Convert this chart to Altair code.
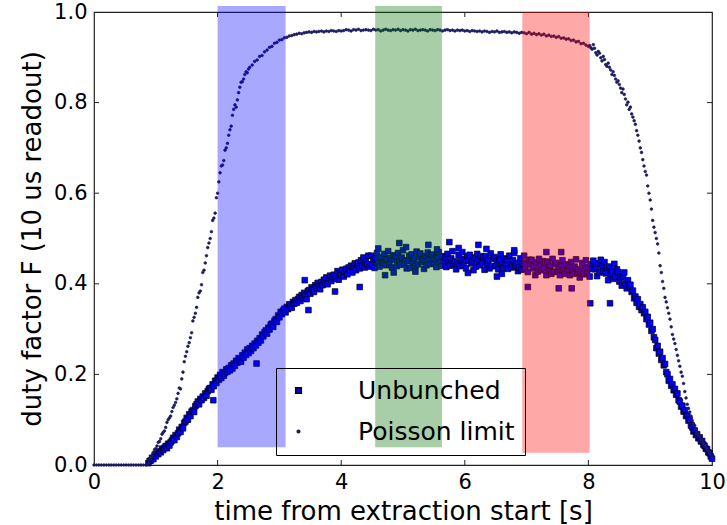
import altair as alt
import pandas as pd

# ---------------- data ----------------
# Poisson limit: regular readout-time grid 0.00..10.00 (step 0.04 s)
poisson_t = [round(0.04 * i, 2) for i in range(251)]
poisson_f = (
    [0.0] * 22 +
    [0.004, 0.016, 0.028, 0.036, 0.05, 0.058, 0.072, 0.083, 0.1, 0.108,
     0.127, 0.138, 0.158, 0.168, 0.205, 0.24, 0.262, 0.281, 0.318, 0.335,
     0.37, 0.384, 0.425, 0.446, 0.48, 0.5, 0.54, 0.556, 0.6, 0.645,
     0.662, 0.695, 0.71, 0.74, 0.772, 0.795, 0.806, 0.834, 0.846, 0.862,
     0.866, 0.878, 0.883, 0.891, 0.894, 0.902, 0.904, 0.912, 0.916, 0.922,
     0.924, 0.931, 0.933, 0.938, 0.939, 0.943, 0.944, 0.947, 0.948, 0.95,
     0.951, 0.953, 0.952, 0.954, 0.955, 0.956, 0.955, 0.957, 0.956] +
    [0.957, 0.958, 0.956, 0.958, 0.957, 0.959, 0.958, 0.957, 0.959, 0.958] +
    [0.959, 0.961, 0.96, 0.958, 0.961, 0.96, 0.962, 0.959, 0.96, 0.961,
     0.96, 0.959, 0.962, 0.96, 0.961, 0.958, 0.96, 0.962, 0.96, 0.959,
     0.961, 0.96, 0.962, 0.959, 0.961, 0.96, 0.958, 0.961, 0.96, 0.962,
     0.959, 0.96, 0.961, 0.96, 0.958, 0.961, 0.96, 0.959, 0.961, 0.96,
     0.958, 0.96, 0.961, 0.959, 0.96, 0.958, 0.96, 0.959, 0.96, 0.958] +
    [0.959, 0.957, 0.959, 0.958, 0.957, 0.958, 0.956, 0.958, 0.957, 0.955,
     0.957, 0.956, 0.958, 0.955, 0.956, 0.957, 0.955, 0.956, 0.954, 0.956,
     0.955, 0.953, 0.955] +
    [0.954, 0.952, 0.955, 0.951, 0.953, 0.95, 0.952, 0.949, 0.951, 0.947,
     0.949, 0.946, 0.947, 0.944, 0.946, 0.942, 0.943, 0.94, 0.941, 0.937,
     0.938, 0.934, 0.935, 0.93, 0.931, 0.927, 0.924] +
    [0.921, 0.928, 0.91, 0.913, 0.899, 0.902, 0.884, 0.887, 0.872, 0.868,
     0.852, 0.848, 0.832, 0.83, 0.808, 0.801, 0.79, 0.768, 0.752, 0.728,
     0.7, 0.674, 0.648, 0.616, 0.585, 0.54, 0.513, 0.488, 0.44, 0.405,
     0.37, 0.347, 0.322, 0.288, 0.268, 0.242, 0.218, 0.196, 0.162, 0.134,
     0.117, 0.098, 0.087, 0.073, 0.063, 0.051, 0.043, 0.035, 0.027, 0.018]
)
# extra Poisson readouts in the steep edges (times 0.90..2.50 and 8.02..9.98)
poisson_rise_t = [round(0.90 + 0.04 * i, 2) for i in range(41)]
poisson_rise_f = [0.012, 0.02, 0.034, 0.042, 0.052, 0.068, 0.075, 0.094, 0.104, 0.118,
                  0.132, 0.146, 0.17, 0.19, 0.228, 0.25, 0.27, 0.292, 0.326, 0.348,
                  0.38, 0.398, 0.43, 0.462, 0.49, 0.515, 0.545, 0.59, 0.625, 0.66,
                  0.672, 0.7, 0.728, 0.748, 0.785, 0.79, 0.822, 0.845, 0.852, 0.868,
                  0.874]
poisson_fall_t = [round(8.02 + 0.04 * i, 2) for i in range(50)]
poisson_fall_f = [0.926, 0.918, 0.92, 0.905, 0.909, 0.892, 0.895, 0.88, 0.878, 0.862,
                  0.86, 0.845, 0.84, 0.822, 0.818, 0.795, 0.785, 0.775, 0.76, 0.738,
                  0.715, 0.69, 0.66, 0.64, 0.6, 0.565, 0.525, 0.5, 0.468, 0.425,
                  0.39, 0.36, 0.335, 0.305, 0.278, 0.255, 0.23, 0.205, 0.18, 0.148,
                  0.125, 0.108, 0.092, 0.08, 0.068, 0.056, 0.047, 0.039, 0.031, 0.022]

# Unbunched: readout grid 0.88..10.00 (step 0.02 s)
unb_t = [round(0.88 + 0.02 * i, 2) for i in range(457)]
unb_f = [
    0.004, 0.009, 0.01, 0.016, 0.013, 0.021, 0.019, 0.026, 0.024, 0.03,
    0.028, 0.036, 0.033, 0.038, 0.042, 0.037, 0.047, 0.043, 0.05, 0.054,
    0.06, 0.055, 0.066, 0.062, 0.07, 0.078, 0.073, 0.084, 0.081, 0.093,
    0.096, 0.104, 0.1, 0.112, 0.108, 0.118, 0.121, 0.117, 0.13, 0.134,
    0.14, 0.134, 0.146, 0.143, 0.151, 0.148, 0.158, 0.153, 0.163, 0.168,
    0.17, 0.166, 0.178, 0.174, 0.186, 0.181, 0.193, 0.188, 0.199, 0.192,
    0.205, 0.197, 0.203, 0.211, 0.206, 0.214, 0.209, 0.22, 0.213, 0.224,
    0.219, 0.23, 0.226, 0.236, 0.231, 0.228, 0.242, 0.237, 0.248, 0.243,
    0.255, 0.247, 0.258, 0.252, 0.263, 0.258, 0.268, 0.264, 0.274, 0.27,
    0.28, 0.275, 0.288, 0.284, 0.293, 0.297, 0.29, 0.303, 0.299, 0.31,
    0.312, 0.305, 0.318, 0.322, 0.316, 0.33, 0.326, 0.338, 0.333, 0.341,
    0.345, 0.337, 0.349, 0.344, 0.355, 0.35, 0.347, 0.36, 0.356, 0.364,
    0.358, 0.366, 0.371, 0.362, 0.375, 0.369, 0.38, 0.374, 0.366, 0.384,
    0.386, 0.378, 0.392, 0.387, 0.382, 0.397, 0.391, 0.402, 0.395, 0.388,
    0.404, 0.397, 0.409, 0.403, 0.414, 0.399, 0.412, 0.418, 0.406, 0.415,
    0.42, 0.411, 0.417, 0.428, 0.409, 0.424, 0.419, 0.431, 0.416, 0.427,
    0.433, 0.421, 0.436, 0.429, 0.44, 0.425, 0.437, 0.445, 0.43, 0.442,
    0.447, 0.434, 0.452, 0.44, 0.458, 0.436, 0.449, 0.443, 0.462, 0.438,
    0.462, 0.442, 0.453, 0.435, 0.457, 0.468, 0.446, 0.438, 0.459, 0.448,
    0.446, 0.466, 0.441, 0.454, 0.472, 0.443, 0.457, 0.436, 0.463, 0.453,
    0.46, 0.439, 0.468, 0.449, 0.442, 0.458, 0.474, 0.445, 0.452, 0.434,
    0.45, 0.462, 0.435, 0.465, 0.447, 0.456, 0.438, 0.471, 0.443, 0.459,
    0.467, 0.448, 0.453, 0.433, 0.461, 0.441, 0.469, 0.455, 0.444, 0.464,
    0.464, 0.444, 0.455, 0.437, 0.459, 0.47, 0.448, 0.44, 0.461, 0.45,
    0.458, 0.437, 0.466, 0.447, 0.44, 0.456, 0.472, 0.443, 0.45, 0.432,
    0.444, 0.464, 0.439, 0.452, 0.47, 0.441, 0.455, 0.434, 0.461, 0.451,
    0.464, 0.445, 0.45, 0.43, 0.458, 0.438, 0.466, 0.452, 0.441, 0.461,
    0.446, 0.458, 0.431, 0.461, 0.443, 0.452, 0.434, 0.467, 0.439, 0.455,
    0.459, 0.439, 0.45, 0.432, 0.454, 0.465, 0.443, 0.435, 0.456, 0.445,
    0.454, 0.433, 0.462, 0.443, 0.436, 0.452, 0.468, 0.439, 0.446, 0.428,
    0.436, 0.456, 0.431, 0.444, 0.462, 0.433, 0.447, 0.426, 0.453, 0.443,
    0.453, 0.434, 0.439, 0.419, 0.447, 0.427, 0.455, 0.441, 0.43, 0.45,
    0.434, 0.446, 0.419, 0.449, 0.431, 0.44, 0.422, 0.455, 0.427, 0.443,
    0.446, 0.426, 0.437, 0.419, 0.441, 0.452, 0.43, 0.422, 0.443, 0.432,
    0.44, 0.419, 0.448, 0.429, 0.422, 0.438, 0.454, 0.425, 0.432, 0.414,
    0.426, 0.446, 0.421, 0.434, 0.452, 0.423, 0.437, 0.416, 0.443, 0.433,
    0.451, 0.432, 0.437, 0.417, 0.445, 0.425, 0.453, 0.439, 0.428, 0.448,
    0.423, 0.435, 0.408, 0.438, 0.42, 0.429, 0.411, 0.444, 0.416, 0.432,
    0.426, 0.405, 0.415, 0.396, 0.416, 0.425, 0.401, 0.39, 0.408, 0.395,
    0.398, 0.382, 0.385, 0.368, 0.372, 0.358, 0.366, 0.349, 0.355, 0.342,
    0.348, 0.335, 0.338, 0.322, 0.327, 0.31, 0.314, 0.296, 0.3, 0.282,
    0.276, 0.258, 0.263, 0.246, 0.25, 0.232, 0.236, 0.22, 0.223, 0.205,
    0.2, 0.186, 0.19, 0.175, 0.178, 0.165, 0.168, 0.155, 0.158, 0.143,
    0.14, 0.129, 0.131, 0.118, 0.121, 0.108, 0.11, 0.098, 0.1, 0.087,
    0.083, 0.074, 0.076, 0.066, 0.068, 0.059, 0.061, 0.052, 0.053, 0.045,
    0.042, 0.036, 0.035, 0.028, 0.026, 0.019, 0.014,
]
# scattered outlying Unbunched readouts
unb_out_t = [1.93, 2.63, 3.41, 3.47, 3.9, 4.3, 4.71, 4.94, 5.41, 5.75,
             6.22, 6.52, 7.02, 7.32, 7.52, 7.56, 7.73, 8.03, 8.35,
             4.6, 4.85, 5.05, 5.2, 5.55, 5.9, 6.05, 6.35, 6.6, 6.8]
unb_out_f = [0.143, 0.224, 0.408, 0.342, 0.383, 0.393, 0.419, 0.49, 0.486, 0.492,
             0.486, 0.416, 0.393, 0.47, 0.39, 0.47, 0.39, 0.357, 0.357,
             0.478, 0.425, 0.481, 0.427, 0.476, 0.479, 0.424, 0.477, 0.422, 0.474]

series_names = ["Unbunched", "Poisson limit"]

# Shaded readout windows
band_start = [2.0, 4.55, 6.93]
band_end = [3.1, 5.63, 8.02]
band_low = [0.039, 0.039, 0.027]
band_high = [1.013, 1.013, 1.0]
band_color = ["#0000ff", "#007000", "#ff0000"]

x_ticks = [0, 2, 4, 6, 8, 10]
y_ticks = [0.0, 0.2, 0.4, 0.6, 0.8, 1.0]

# ---------------- tables ----------------
pts = pd.concat([
    pd.DataFrame({"t": unb_t, "f": unb_f, "series": series_names[0]}),
    pd.DataFrame({"t": unb_out_t, "f": unb_out_f, "series": series_names[0]}),
    pd.DataFrame({"t": poisson_t, "f": poisson_f, "series": series_names[1]}),
    pd.DataFrame({"t": poisson_rise_t, "f": poisson_rise_f, "series": series_names[1]}),
    pd.DataFrame({"t": poisson_fall_t, "f": poisson_fall_f, "series": series_names[1]}),
], ignore_index=True)

bands = pd.DataFrame({"x1": band_start, "x2": band_end, "y1": band_low,
                      "y2": band_high, "c": band_color})

FONT = "DejaVu Sans"
W, H = 618, 453

xscale = alt.Scale(domain=[0, 10], nice=False, zero=False)
yscale = alt.Scale(domain=[0, 1], nice=False, zero=False)

points = alt.Chart(pts).mark_point(filled=True, clip=False, strokeWidth=0.7, opacity=1).encode(
    x=alt.X("t:Q", scale=xscale,
            axis=alt.Axis(values=x_ticks, format="d", title="time from extraction start [s]",
                          ticks=False, tickSize=0, domain=False, grid=False,
                          labelFlush=False, labelOverlap=False,
                          labelPadding=6, titlePadding=6)),
    y=alt.Y("f:Q", scale=yscale,
            axis=alt.Axis(values=y_ticks, format=".1f", title="duty factor F (10 us readout)",
                          ticks=False, tickSize=0, domain=False, grid=False,
                          labelFlush=False, labelOverlap=False,
                          labelPadding=7, titlePadding=8)),
    fill=alt.Fill("series:N", scale=alt.Scale(domain=series_names, range=["#0000ff", "#1b1b5e"]),
                  legend=alt.Legend(title=None)),
    stroke=alt.Stroke("series:N", scale=alt.Scale(domain=series_names, range=["#000000", "#1b1b5e"]),
                      legend=alt.Legend(title=None)),
    shape=alt.Shape("series:N", scale=alt.Scale(domain=series_names, range=["square", "circle"]),
                    legend=alt.Legend(title=None)),
    size=alt.Size("series:N", scale=alt.Scale(domain=series_names, range=[32, 7]),
                  legend=alt.Legend(title=None)),
    order=alt.Order("series:N", sort="descending"),
)

tick_x = pd.DataFrame({"t": x_ticks[1:-1]})
tick_y = pd.DataFrame({"f": y_ticks[1:-1]})
tx_bottom = alt.Chart(tick_x).mark_rule(color="#222222", strokeWidth=1).encode(
    x="t:Q", y=alt.value(H), y2=alt.value(H - 5))
tx_top = alt.Chart(tick_x).mark_rule(color="#222222", strokeWidth=1).encode(
    x="t:Q", y=alt.value(0), y2=alt.value(5))
ty_left = alt.Chart(tick_y).mark_rule(color="#222222", strokeWidth=1).encode(
    y="f:Q", x=alt.value(0), x2=alt.value(5))
ty_right = alt.Chart(tick_y).mark_rule(color="#222222", strokeWidth=1).encode(
    y="f:Q", x=alt.value(W), x2=alt.value(W - 5))

band_layer = alt.Chart(bands).mark_rect(opacity=0.34, clip=False).encode(
    x="x1:Q", x2="x2:Q", y="y1:Q", y2="y2:Q",
    color=alt.Color("c:N", scale=None),
)

chart = alt.layer(points, tx_bottom, tx_top, ty_left, ty_right, band_layer).properties(
    width=W, height=H,
    background="white",
    autosize=alt.AutoSizeParams(type="none"),
    padding={"left": 94, "top": 12, "right": 15, "bottom": 60},
).configure_view(
    stroke="#222222", strokeWidth=1.2
).configure_axis(
    labelFont=FONT, labelFontSize=21, labelColor="black",
    titleFont=FONT, titleFontSize=26, titleFontWeight="normal", titleColor="black",
).configure_legend(
    orient="none", legendX=182, legendY=356,
    labelFont=FONT, labelFontSize=25, labelColor="black",
    strokeColor="black", padding=10, rowPadding=15, labelOffset=47,
    cornerRadius=0,
)

chart.save("out.html", embed_options={"renderer": "svg", "actions": False})
